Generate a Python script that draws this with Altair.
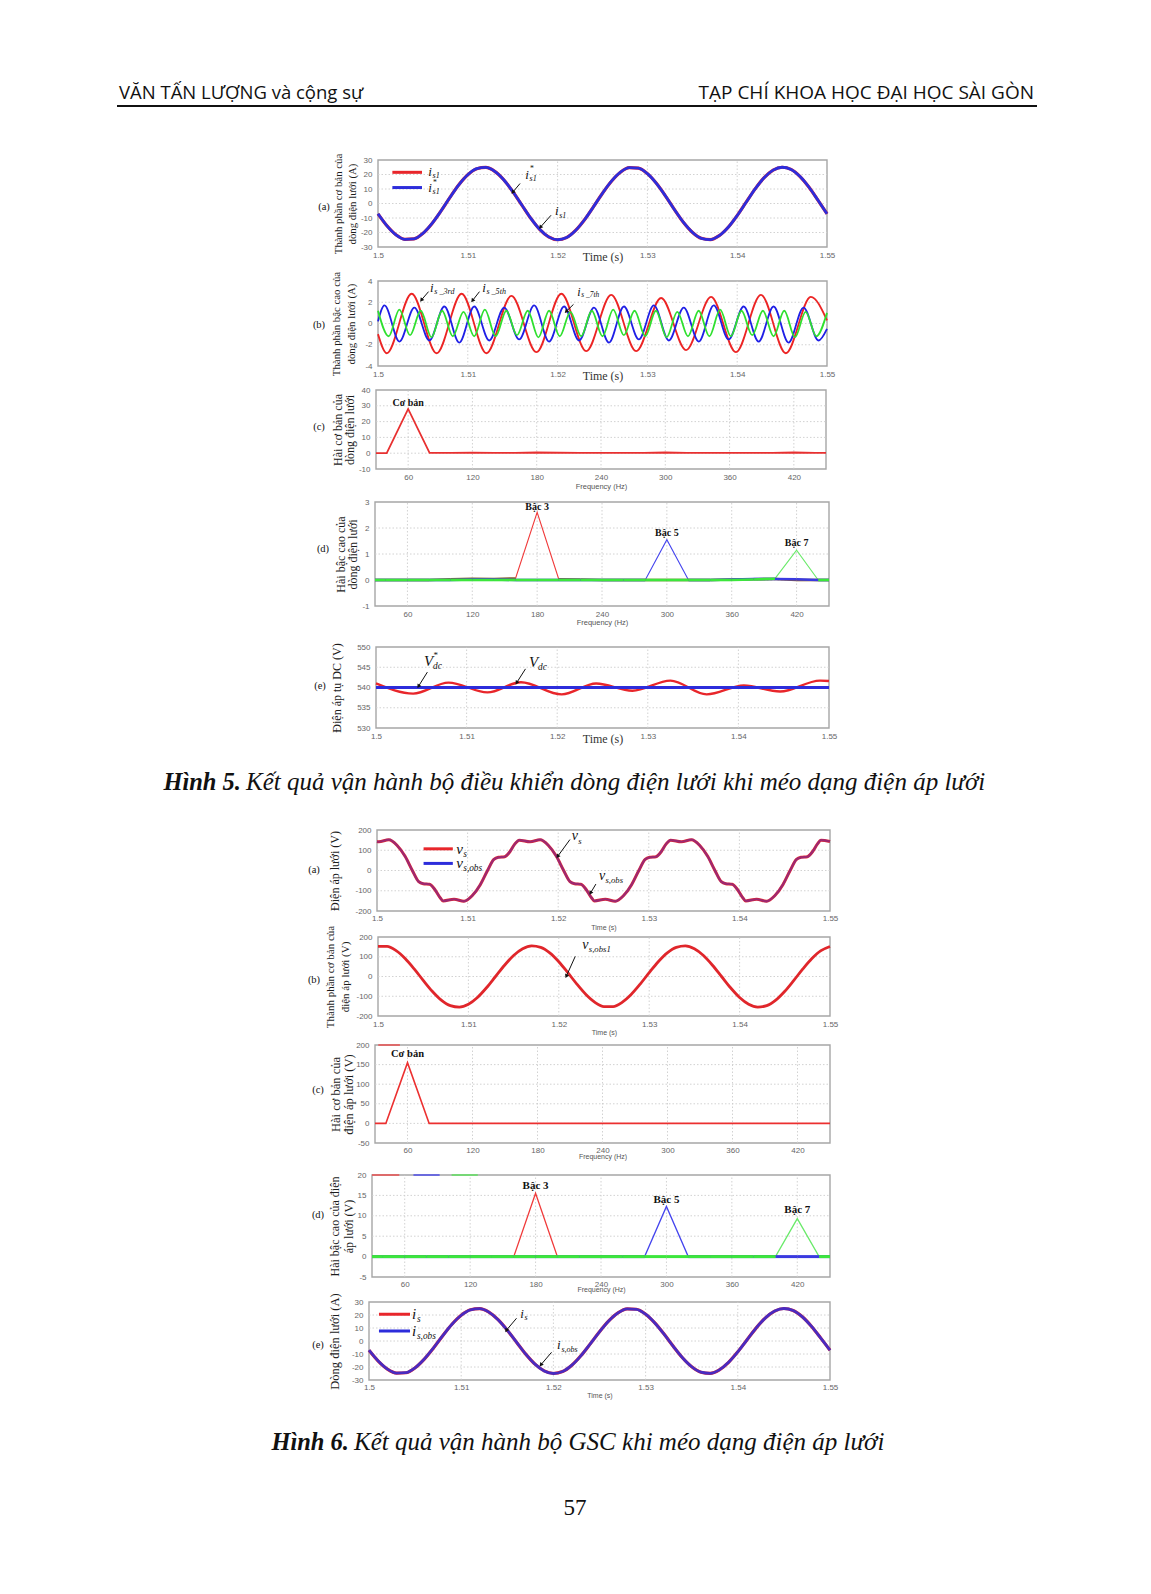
import altair as alt
import pandas as pd

PAGE_W, PAGE_H = 1151, 1594
SERIF = "Liberation Serif"
SANS = "Liberation Sans"
HEAD_FONT = "Open Sans"
RED, BLUE, GREEN = "#e8262b", "#2d2ddb", "#35e035"
FRAME, GRID, TICK = "#a6a6a6", "#cdcdcd", "#666666"

# ------------------------------------------------------------------ data
TIME_TICKS = [1.5, 1.51, 1.52, 1.53, 1.54, 1.55]
FREQ_TICKS = [60, 120, 180, 240, 300, 360, 420]

# 1 ms sampling instants of the 60 Hz records
T_1MS = [round(1.5 + 0.001 * k, 3) for k in range(51)]

# Fig 5(a): fundamental grid current i_s1 and reference i*_s1 (A), read every 1 ms
I_S1 = [-7.1, -15.4, -21.6, -24.7, -24.4, -20.6, -13.9, -5.3, 4.1, 12.9, 19.8, 24.0, 24.9,
        22.2, 16.4, 8.3, -0.9, -10.1, -17.8, -23.0, -25.0, -23.5, -18.6, -11.2, -2.2, 7.1,
        15.4, 21.6, 24.7, 24.4, 20.6, 13.9, 5.3, -4.1, -12.9, -19.8, -24.0, -24.9, -22.2,
        -16.4, -8.3, 0.9, 10.1, 17.8, 23.0, 25.0, 23.5, 18.6, 11.2, 2.2, -7.1]
I_S1_REF = list(I_S1)

# Fig 5(b): harmonic currents, extremes (s, A)
I3_T = [1.5000, 1.50097, 1.50375, 1.50653, 1.50931, 1.51208, 1.51486, 1.51764, 1.52042, 1.52319,
        1.52597, 1.52875, 1.53153, 1.53431, 1.53709, 1.53986, 1.54264, 1.54542, 1.54820, 1.5500]
I3_V = [-1.0, -2.8, 2.8, -2.8, 2.8, -2.8, 2.6, -2.7, 2.8, -2.6, 2.7, -2.6, 2.4, -2.5, 2.5, -2.7,
        2.7, -2.8, 2.5, 0.3]
I5_T = [1.5000, 1.50072, 1.50239, 1.50405, 1.50572, 1.50739, 1.50905, 1.51072, 1.51239, 1.51405,
        1.51572, 1.51739, 1.51905, 1.52072, 1.52239, 1.52405, 1.52572, 1.52739, 1.52905, 1.53072,
        1.53239, 1.53405, 1.53572, 1.53739, 1.53905, 1.54072, 1.54239, 1.54405, 1.54572, 1.54739,
        1.54905, 1.5500]
I5_V = [0.2, 1.7, -1.7, 1.5, -1.6, 1.6, -1.8, 1.6, -1.6, 1.5, -1.5, 1.7, -1.7, 1.6, -1.6, 1.5,
        -1.8, 1.6, -1.5, 1.7, -1.6, 1.5, -1.7, 1.7, -1.5, 1.6, -1.7, 1.6, -1.8, 1.5, -1.6, -0.5]
I7_T = [1.50000, 1.50119, 1.50238, 1.50357, 1.50476, 1.50595, 1.50714, 1.50833, 1.50952, 1.51071,
        1.51190, 1.51310, 1.51429, 1.51548, 1.51667, 1.51786, 1.51905, 1.52024, 1.52143, 1.52262,
        1.52381, 1.52500, 1.52619, 1.52738, 1.52857, 1.52976, 1.53095, 1.53214, 1.53333, 1.53452,
        1.53571, 1.53690, 1.53810, 1.53929, 1.54048, 1.54167, 1.54286, 1.54405, 1.54524, 1.54643,
        1.54762, 1.54881, 1.55000]
I7_V = [1.2, -1.2, 1.3, -1.1, 1.2, -1.3, 1.2, -1.2, 1.1, -1.2, 1.3, -1.2, 1.2, -1.1, 1.2, -1.3,
        1.2, -1.2, 1.1, -1.2, 1.2, -1.2, 1.3, -1.1, 1.2, -1.2, 1.2, -1.3, 1.1, -1.2, 1.2, -1.2,
        1.3, -1.2, 1.2, -1.1, 1.2, -1.2, 1.2, -1.3, 1.1, -1.2, 1.0]

# spectra: frequency bins (Hz)
FREQ = [30, 40, 60, 80, 100, 120, 140, 160, 180, 200, 220, 240, 260, 280, 300, 320, 340, 360,
        380, 400, 420, 440, 450]
# Fig 5(c): fundamental current spectrum (A)
I1_SPEC = [0, 0, 28, 0.2, 0.2, 0.35, 0.2, 0.2, 0.45, 0.3, 0.2, 0.2, 0.2, 0.2, 0.45, 0.2, 0.2,
           0.2, 0.2, 0.2, 0.45, 0.2, 0.2]
# Fig 5(d): harmonic current spectra (A)
I3_SPEC = [0, 0, 0, 0, 0.03, 0.05, 0.04, 0.06, 2.6, 0.03, 0.02, 0, 0, 0, 0, 0, 0, 0.02, 0.03,
           0.04, 0, 0, 0]
I5_SPEC = [0, 0, 0, 0, 0, 0.02, 0.02, 0, 0, 0, 0, 0, 0, 0, 1.55, 0, 0, 0.02, 0.04, 0.04, 0.03,
           0, 0]
I7_SPEC = [0, 0, 0, 0, 0, 0, 0, 0, 0, 0, 0, 0, 0, 0, 0, 0, 0, 0, 0.02, 0.05, 1.15, 0, 0]

# Fig 5(e): DC-link voltage (V), extremes of the ripple
VDC_T = [1.5000, 1.5041, 1.5080, 1.5123, 1.5160, 1.5205, 1.5243, 1.5283, 1.5325, 1.5365,
         1.5406, 1.5446, 1.5490, 1.5500]
VDC_V = [541.0, 538.5, 541.2, 538.8, 541.3, 538.3, 541.0, 539.2, 541.7, 538.3, 540.5, 539.0,
         541.7, 541.6]
VDC_REF_T = [1.5, 1.55]
VDC_REF_V = [540.0, 540.0]

# Fig 6(a): distorted grid voltage v_s and observer estimate (V)
VS_T = [1.5000, 1.5002, 1.5013, 1.5022, 1.5031, 1.5039, 1.5046, 1.5051, 1.5058, 1.5064, 1.5069,
        1.5073, 1.5085, 1.5096, 1.5105, 1.5114, 1.5122, 1.5129, 1.5134, 1.5141, 1.5147, 1.5152,
        1.5157, 1.5169, 1.5180, 1.5189, 1.5198, 1.5206, 1.5213, 1.5218, 1.5225, 1.5231, 1.5236,
        1.5240, 1.5252, 1.5263, 1.5272, 1.5281, 1.5289, 1.5296, 1.5301, 1.5308, 1.5314, 1.5319,
        1.5324, 1.5336, 1.5347, 1.5356, 1.5365, 1.5373, 1.5380, 1.5385, 1.5392, 1.5398, 1.5403,
        1.5407, 1.5419, 1.5430, 1.5439, 1.5448, 1.5456, 1.5463, 1.5468, 1.5475, 1.5481, 1.5486,
        1.5490, 1.5500]
VS_V = [143, 142, 152, 125, 70, 0, -55, -65, -68, -95, -130,
        -150, -142, -152, -125, -70, 0, 55, 65, 68, 95, 130,
        150, 142, 152, 125, 70, 0, -55, -65, -68, -95, -130,
        -150, -142, -152, -125, -70, 0, 55, 65, 68, 95, 130,
        150, 142, 152, 125, 70, 0, -55, -65, -68, -95, -130,
        -150, -142, -152, -125, -70, 0, 55, 65, 68, 95, 130,
        150, 143]
VS_OBS_V = list(VS_V)

# Fig 6(b): fundamental of the observed voltage (V), read every 1 ms
V_OBS1 = [152.2, 152.2, 130.9, 91.1, 38.6, -19.4, -74.7, -119.5, -147.4, -154.7, -140.3, -106.2,
          -57.1, 0, 57.1, 106.2, 140.3, 154.7, 147.4, 119.5, 74.7, 19.4, -38.6, -91.1, -130.9,
          -152.2, -152.2, -130.9, -91.1, -38.6, 19.4, 74.7, 119.5, 147.4, 154.7, 140.3, 106.2,
          57.1, 0, -57.1, -106.2, -140.3, -154.7, -147.4, -119.5, -74.7, -19.4, 38.6, 91.1,
          130.9, 152.2]

# Fig 6(c): fundamental voltage spectrum (V)
V1_SPEC = [0, 0, 155, 0, 0, 0, 0, 0, 0, 0, 0, 0, 0, 0, 0, 0, 0, 0, 0, 0, 0, 0, 0]
# Fig 6(d): harmonic voltage spectra (V)
V3_SPEC = [0, 0, 0, 0, 0, 0, 0, 0, 15.5, 0, 0, 0, 0, 0, 0, 0, 0, 0, 0, 0, 0, 0, 0]
V5_SPEC = [0, 0, 0, 0, 0, 0, 0, 0, 0, 0, 0, 0, 0, 0, 12.3, 0, 0, 0, 0, 0, 0, 0, 0]
V7_SPEC = [0, 0, 0, 0, 0, 0, 0, 0, 0, 0, 0, 0, 0, 0, 0, 0, 0, 0, 0, 0, 9.3, 0, 0]

# Fig 6(e): grid current and its observer estimate (A)
I_S = list(I_S1)
I_S_OBS = list(I_S1)

# clipped legend remnants at the top of the spectra (Hz)
REM_6C = [("r", 33, 53)]
REM_6D = [("r", 30, 55), ("b", 68, 92), ("g", 103, 127)]

ONE = pd.DataFrame({"k": [0]})

# ------------------------------------------------------------------ panels
# ytx: centre of the first line of the y title (page pixels)
P5A = dict(L=378, R=827, T=160, B=247, xdom=[1.5, 1.55], ydom=[-30, 30], xticks=TIME_TICKS,
           yticks=[-30, -20, -10, 0, 10, 20, 30], xtitle="Time (s)", xtf=SERIF, xts=12,
           xtc="#333333", xty=9, xlp=4,
           ytitle=["Thành phần cơ bản của", "dòng điện lưới (A)"], yts=10.8, ytx=338, ylh=14,
           letter="(a)", lx=324, ly=207)
P5B = dict(L=378, R=827, T=281, B=366, xdom=[1.5, 1.55], ydom=[-4, 4], xticks=TIME_TICKS,
           yticks=[-4, -2, 0, 2, 4], xtitle="Time (s)", xtf=SERIF, xts=12, xtc="#333333",
           xty=9, xlp=4, ytitle=["Thành phần bậc cao của", "dòng điện lưới (A)"], yts=10.8,
           ytx=336, ylh=15, letter="(b)", lx=319, ly=325)
P5C = dict(L=376, R=826, T=390, B=469, xdom=[30, 450], ydom=[-10, 40], xticks=FREQ_TICKS,
           yticks=[-10, 0, 10, 20, 30, 40], xtitle="Frequency (Hz)", xtf=SANS, xts=7.5,
           xtc="#555555", xty=17, xlp=4, ytitle=["Hài cơ bản của", "dòng điện lưới"],
           yts=12, ytx=337, ylh=12.5, letter="(c)", lx=319, ly=427)
P5D = dict(L=375, R=829, T=502, B=606, xdom=[30, 450], ydom=[-1, 3], xticks=FREQ_TICKS,
           yticks=[-1, 0, 1, 2, 3], xtitle="Frequency (Hz)", xtf=SANS, xts=7.5,
           xtc="#555555", xty=16, xlp=4, ytitle=["Hài bậc cao của", "dòng điện lưới"],
           yts=12, ytx=340, ylh=12.5, letter="(d)", lx=323, ly=549)
P5E = dict(L=376, R=829, T=647, B=728, xdom=[1.5, 1.55], ydom=[530, 550], xticks=TIME_TICKS,
           yticks=[530, 535, 540, 545, 550], xtitle="Time (s)", xtf=SERIF, xts=12,
           xtc="#333333", xty=10, xlp=4, ytitle="Điện áp tụ DC (V)", yts=12, ytx=336,
           ylh=12, letter="(e)", lx=320, ly=686)
P6A = dict(L=377, R=830, T=830, B=911, xdom=[1.5, 1.55], ydom=[-200, 200], xticks=TIME_TICKS,
           yticks=[-200, -100, 0, 100, 200], xtitle="Time (s)", xtf=SANS, xts=7,
           xtc="#555555", xty=16, xlp=3, ytitle="Điện áp lưới (V)", yts=12, ytx=334, ylh=12,
           letter="(a)", lx=314, ly=870)
P6B = dict(L=378, R=830, T=937, B=1016, xdom=[1.5, 1.55], ydom=[-200, 200], xticks=TIME_TICKS,
           yticks=[-200, -100, 0, 100, 200], xtitle="Time (s)", xtf=SANS, xts=7,
           xtc="#555555", xty=16, xlp=4, ytitle=["Thành phần cơ bản của", "điện áp lưới (V)"],
           yts=11, ytx=330, ylh=15.5, letter="(b)", lx=314, ly=980)
P6C = dict(L=375, R=830, T=1045, B=1143, xdom=[30, 450], ydom=[-50, 200], xticks=FREQ_TICKS,
           yticks=[-50, 0, 50, 100, 150, 200], xtitle="Frequency (Hz)", xtf=SANS, xts=7,
           xtc="#555555", xty=13, xlp=3, ytitle=["Hài cơ bản của", "điện áp lưới (V)"],
           yts=12.5, ytx=335, ylh=13.5, letter="(c)", lx=318, ly=1090)
P6D = dict(L=372, R=830, T=1175, B=1277, xdom=[30, 450], ydom=[-5, 20], xticks=FREQ_TICKS,
           yticks=[-5, 0, 5, 10, 15, 20], xtitle="Frequency (Hz)", xtf=SANS, xts=7,
           xtc="#555555", xty=12, xlp=3, ytitle=["Hài bậc cao của điện", "áp lưới (V)"],
           yts=12, ytx=334, ylh=14, letter="(d)", lx=318, ly=1215)
P6E = dict(L=369, R=830, T=1302, B=1380, xdom=[1.5, 1.55], ydom=[-30, 30], xticks=TIME_TICKS,
           yticks=[-30, -20, -10, 0, 10, 20, 30], xtitle="Time (s)", xtf=SANS, xts=7,
           xtc="#555555", xty=15, xlp=3, ytitle="Dòng điện lưới (A)", yts=12.5, ytx=334, ylh=12,
           letter="(e)", lx=318, ly=1345)


def scales(p):
    xs = alt.Scale(domain=p["xdom"], range=[p["L"], p["R"]], nice=False, zero=False)
    ys = alt.Scale(domain=p["ydom"], range=[p["B"], p["T"]], nice=False, zero=False)
    return xs, ys


def xaxis(p):
    return alt.Axis(orient="bottom", offset=p["B"] - PAGE_H, values=p["xticks"],
                    labelExpr="'' + datum.value", labelFont=SANS, labelFontSize=8,
                    labelColor=TICK, labelPadding=p["xlp"], ticks=False, domain=False, grid=False,
                    labelFlush=False, labelOverlap=False, title=p["xtitle"], titleFont=p["xtf"],
                    titleFontSize=p["xts"], titleFontWeight="normal", titleColor=p["xtc"],
                    titleY=p["xty"], titleBaseline="middle")


def yaxis(p):
    return alt.Axis(orient="left", offset=-p["L"], values=p["yticks"],
                    labelExpr="'' + datum.value", labelFont=SANS, labelFontSize=8,
                    labelColor=TICK, labelPadding=6, ticks=False, domain=False, grid=False,
                    labelFlush=False, labelOverlap=False, title=p["ytitle"], titleFont=SERIF,
                    titleFontSize=p["yts"], titleFontWeight="normal", titleColor="#1c1c1c",
                    titleAngle=270, titleX=p["ytx"] - p["L"], titleBaseline="middle",
                    titleLineHeight=p["ylh"])


def text(xs, ys, x, y, s, size, font=SERIF, style="italic", weight="normal", dx=0, dy=0,
         align="left", color="#111111"):
    return alt.Chart(ONE).mark_text(text=s, font=font, fontSize=size, fontStyle=style,
                                    fontWeight=weight, align=align, baseline="middle", dx=dx,
                                    dy=dy, color=color).encode(
        x=alt.XDatum(x, scale=xs, axis=None), y=alt.YDatum(y, scale=ys, axis=None))


def symbol(xs, ys, x, y, main, sub="", sup="", size=13, w=None):
    w = size * 0.33 if w is None else w
    out = [text(xs, ys, x, y, main, size)]
    if sup:
        out.append(text(xs, ys, x, y, sup, size * 0.6, style="normal", dx=w + 0.5, dy=-size * 0.4))
    if sub:
        out.append(text(xs, ys, x, y, sub, size * 0.62, dx=w, dy=size * 0.32))
    return out


def arrow(xs, ys, x1, y1, x2, y2, angle):
    shaft = alt.Chart(ONE).mark_rule(color="#111111", strokeWidth=1).encode(
        x=alt.XDatum(x1, scale=xs, axis=None), y=alt.YDatum(y1, scale=ys, axis=None),
        x2=alt.X2Datum(x2), y2=alt.Y2Datum(y2))
    head = alt.Chart(ONE).mark_point(shape="triangle", filled=True, size=20, angle=angle,
                                     color="#111111", opacity=1).encode(
        x=alt.XDatum(x2, scale=xs, axis=None), y=alt.YDatum(y2, scale=ys, axis=None))
    return [shaft, head]


def swatch(xs, ys, xa, xb, y, color, width=3):
    return alt.Chart(ONE).mark_rule(color=color, strokeWidth=width).encode(
        x=alt.XDatum(xa, scale=xs, axis=None), x2=alt.X2Datum(xb),
        y=alt.YDatum(y, scale=ys, axis=None))


def line(df, xf, yf, xs, ys, color, width, interp="monotone", opacity=1.0):
    return alt.Chart(df).mark_line(color=color, strokeWidth=width, interpolate=interp,
                                   opacity=opacity).encode(
        x=alt.X(xf + ":Q", scale=xs, axis=None), y=alt.Y(yf + ":Q", scale=ys, axis=None))


def baseline_segments(freq, vals, thr, xs, ys, color, width):
    rows = [(freq[i], freq[i + 1], vals[i], vals[i + 1]) for i in range(len(freq) - 1)
            if vals[i] <= thr and vals[i + 1] <= thr]
    df = pd.DataFrame(rows, columns=["fa", "fb", "va", "vb"])
    return alt.Chart(df).mark_rule(color=color, strokeWidth=width).encode(
        x=alt.X("fa:Q", scale=xs, axis=None), x2="fb:Q",
        y=alt.Y("va:Q", scale=ys, axis=None), y2="vb:Q")


frames = []


def base_layers(p, xs, ys):
    x0, x1 = p["xdom"]
    y0, y1 = p["ydom"]
    gx = [v for v in p["xticks"] if x0 < v < x1]
    gy = [v for v in p["yticks"] if y0 < v < y1]
    grid_v = alt.Chart(pd.DataFrame({"g": gx})).mark_rule(
        color=GRID, strokeDash=[1.5, 2], strokeWidth=0.9).encode(
        x=alt.X("g:Q", scale=xs, axis=None),
        y=alt.YDatum(y0, scale=ys, axis=None), y2=alt.Y2Datum(y1))
    grid_h = alt.Chart(pd.DataFrame({"g": gy})).mark_rule(
        color=GRID, strokeDash=[1.5, 2], strokeWidth=0.9).encode(
        y=alt.Y("g:Q", scale=ys, axis=None),
        x=alt.XDatum(x0, scale=xs, axis=None), x2=alt.X2Datum(x1))
    # frame with the panel's axes: a top-level layer of its own
    frames.append(alt.Chart(pd.DataFrame({"a": [x0], "b": [x1], "c": [y0], "d": [y1]})).mark_rect(
        fillOpacity=0, stroke=FRAME, strokeWidth=1.4).encode(
        x=alt.X("a:Q", scale=xs, axis=xaxis(p)), x2="b:Q",
        y=alt.Y("c:Q", scale=ys, axis=yaxis(p)), y2="d:Q"))
    letter = text(xs, ys, x0, (y0 + y1) / 2, p["letter"], 10.5, style="normal", align="center",
                  dx=p["lx"] - p["L"], dy=p["ly"] - (p["T"] + p["B"]) / 2)
    return [grid_v, grid_h, letter]


layers = []

# ---- Fig 5(a)
p = P5A
xs, ys = scales(p)
Ls = base_layers(p, xs, ys)
d = pd.DataFrame({"t": T_1MS, "meas": I_S1, "ref": I_S1_REF})
Ls += [line(d, "t", "meas", xs, ys, RED, 3.2), line(d, "t", "ref", xs, ys, BLUE, 2.8)]
Ls += [swatch(xs, ys, 1.5016, 1.5049, 21.5, RED), swatch(xs, ys, 1.5016, 1.5049, 11.0, BLUE)]
Ls += symbol(xs, ys, 1.5056, 21.5, "i", sub="s1")
Ls += symbol(xs, ys, 1.5056, 10.5, "i", sub="s1", sup="*")
Ls += symbol(xs, ys, 1.5164, 20, "i", sub="s1", sup="*")
Ls += arrow(xs, ys, 1.51582, 13.8, 1.51505, 8.1, 219)
Ls += symbol(xs, ys, 1.5197, -5.5, "i", sub="s1")
Ls += arrow(xs, ys, 1.51927, -8.1, 1.51812, -16.1, 221)
layers.append(alt.layer(*Ls))

# ---- Fig 5(b)
p = P5B
xs, ys = scales(p)
Ls = base_layers(p, xs, ys)
Ls += [line(pd.DataFrame({"t": I3_T, "v": I3_V}), "t", "v", xs, ys, "#ec2424", 1.8),
       line(pd.DataFrame({"t": I5_T, "v": I5_V}), "t", "v", xs, ys, "#1f1fe6", 1.8),
       line(pd.DataFrame({"t": I7_T, "v": I7_V}), "t", "v", xs, ys, "#2fe02f", 1.8)]
Ls += symbol(xs, ys, 1.5058, 3.35, "i", sub="s _3rd")
Ls += arrow(xs, ys, 1.50563, 3.0, 1.50487, 2.25, 218)
Ls += symbol(xs, ys, 1.5116, 3.35, "i", sub="s _5th")
Ls += arrow(xs, ys, 1.5113, 3.0, 1.51056, 2.2, 218)
Ls += symbol(xs, ys, 1.5222, 3.0, "i", sub="s _7th", size=12)
Ls += arrow(xs, ys, 1.52177, 1.8, 1.521, 1.17, 225)
layers.append(alt.layer(*Ls))

# ---- Fig 5(c)
p = P5C
xs, ys = scales(p)
Ls = base_layers(p, xs, ys)
Ls += [line(pd.DataFrame({"f": FREQ, "v": I1_SPEC}), "f", "v", xs, ys, "#e83030", 1.8, "linear")]
Ls += [text(xs, ys, 60, 31.5, "Cơ bản", 10, style="normal", weight="bold", align="center")]
layers.append(alt.layer(*Ls))

# ---- Fig 5(d)
p = P5D
xs, ys = scales(p)
Ls = base_layers(p, xs, ys)
Ls += [line(pd.DataFrame({"f": FREQ, "v": I3_SPEC}), "f", "v", xs, ys, "#f03a3a", 1.1, "linear"),
       line(pd.DataFrame({"f": FREQ, "v": I5_SPEC}), "f", "v", xs, ys, "#4444ee", 1.1, "linear"),
       line(pd.DataFrame({"f": FREQ, "v": I7_SPEC}), "f", "v", xs, ys, "#6aea6a", 1.1, "linear"),
       baseline_segments(FREQ, I3_SPEC, 0.2, xs, ys, "#8a5a30", 2.6),
       baseline_segments(FREQ, I5_SPEC, 0.2, xs, ys, "#3a3ae0", 2.6),
       baseline_segments(FREQ, I7_SPEC, 0.2, xs, ys, "#3ce63c", 2.6)]
Ls += [text(xs, ys, 180, 2.8, "Bậc 3", 10, style="normal", weight="bold", align="center"),
       text(xs, ys, 300, 1.8, "Bậc 5", 10, style="normal", weight="bold", align="center"),
       text(xs, ys, 420, 1.43, "Bậc 7", 10, style="normal", weight="bold", align="center")]
layers.append(alt.layer(*Ls))

# ---- Fig 5(e)
p = P5E
xs, ys = scales(p)
Ls = base_layers(p, xs, ys)
Ls += [line(pd.DataFrame({"t": VDC_T, "v": VDC_V}), "t", "v", xs, ys, RED, 2.4),
       line(pd.DataFrame({"t": VDC_REF_T, "v": VDC_REF_V}), "t", "v", xs, ys, BLUE, 3.2, "linear")]
Ls += symbol(xs, ys, 1.5053, 546.5, "V", sub="dc", sup="*", size=15, w=9)
Ls += arrow(xs, ys, 1.50567, 543.8, 1.50472, 540.4, 212)
Ls += symbol(xs, ys, 1.5169, 546.3, "V", sub="dc", size=15, w=9)
Ls += arrow(xs, ys, 1.5165, 544.6, 1.51556, 541.3, 213)
layers.append(alt.layer(*Ls))

# ---- Fig 6(a)
p = P6A
xs, ys = scales(p)
Ls = base_layers(p, xs, ys)
d = pd.DataFrame({"t": VS_T, "v": VS_V, "o": VS_OBS_V})
Ls += [line(d, "t", "v", xs, ys, RED, 3.0), line(d, "t", "o", xs, ys, BLUE, 2.2, opacity=0.4)]
Ls += [swatch(xs, ys, 1.50514, 1.50837, 107, RED), swatch(xs, ys, 1.50514, 1.50837, 35, BLUE)]
Ls += symbol(xs, ys, 1.50875, 107, "v", sub="s", size=15, w=7)
Ls += symbol(xs, ys, 1.50875, 35, "v", sub="s,obs", size=15, w=7)
Ls += symbol(xs, ys, 1.5215, 170, "v", sub="s", size=14, w=6.5)
Ls += arrow(xs, ys, 1.5213, 153, 1.51998, 72, 216)
Ls += symbol(xs, ys, 1.5245, -25, "v", sub="s,obs", size=14, w=6.5)
Ls += arrow(xs, ys, 1.52416, -67, 1.5236, -109, 210)
layers.append(alt.layer(*Ls))

# ---- Fig 6(b)
p = P6B
xs, ys = scales(p)
Ls = base_layers(p, xs, ys)
Ls += [line(pd.DataFrame({"t": T_1MS, "v": V_OBS1}), "t", "v", xs, ys, "#e0262b", 2.8)]
Ls += symbol(xs, ys, 1.5226, 160, "v", sub="s,obs1", size=14, w=6.5)
Ls += arrow(xs, ys, 1.52182, 102, 1.52086, 4, 205)
layers.append(alt.layer(*Ls))

# ---- Fig 6(c)
p = P6C
xs, ys = scales(p)
Ls = base_layers(p, xs, ys)
Ls += [line(pd.DataFrame({"f": FREQ, "v": V1_SPEC}), "f", "v", xs, ys, "#ec3030", 1.6, "linear")]
Ls += [swatch(xs, ys, a, b, 200, "#e85050", 1.5) for _, a, b in REM_6C]
Ls += [text(xs, ys, 60, 177, "Cơ bản", 10.5, style="normal", weight="bold", align="center")]
layers.append(alt.layer(*Ls))

# ---- Fig 6(d)
p = P6D
xs, ys = scales(p)
Ls = base_layers(p, xs, ys)
Ls += [line(pd.DataFrame({"f": FREQ, "v": V3_SPEC}), "f", "v", xs, ys, "#f03a3a", 1.3, "linear"),
       line(pd.DataFrame({"f": FREQ, "v": V5_SPEC}), "f", "v", xs, ys, "#4444ee", 1.3, "linear"),
       line(pd.DataFrame({"f": FREQ, "v": V7_SPEC}), "f", "v", xs, ys, "#6aea6a", 1.3, "linear"),
       baseline_segments(FREQ, V5_SPEC, 1, xs, ys, "#3a3ae0", 3),
       baseline_segments(FREQ, V7_SPEC, 1, xs, ys, "#3ce63c", 3)]
rem_col = {"r": "#e85050", "b": "#5050e8", "g": "#60e060"}
Ls += [swatch(xs, ys, a, b, 20, rem_col[c], 1.5) for c, a, b in REM_6D]
Ls += [text(xs, ys, 180, 17.4, "Bậc 3", 11, style="normal", weight="bold", align="center"),
       text(xs, ys, 300, 13.9, "Bậc 5", 11, style="normal", weight="bold", align="center"),
       text(xs, ys, 420, 11.5, "Bậc 7", 11, style="normal", weight="bold", align="center")]
layers.append(alt.layer(*Ls))

# ---- Fig 6(e)
p = P6E
xs, ys = scales(p)
Ls = base_layers(p, xs, ys)
d = pd.DataFrame({"t": T_1MS, "v": I_S, "o": I_S_OBS})
Ls += [line(d, "t", "v", xs, ys, RED, 3.2), line(d, "t", "o", xs, ys, BLUE, 2.8, opacity=0.85)]
Ls += [swatch(xs, ys, 1.50108, 1.50445, 20.5, RED), swatch(xs, ys, 1.50108, 1.50445, 7.7, BLUE)]
Ls += symbol(xs, ys, 1.50466, 20.5, "i", sub="s", size=15, w=5)
Ls += symbol(xs, ys, 1.50466, 7.7, "i", sub="s,obs", size=15, w=5)
Ls += symbol(xs, ys, 1.5164, 21, "i", sub="s", size=13)
Ls += arrow(xs, ys, 1.5160, 17.5, 1.51493, 8.5, 211)
Ls += symbol(xs, ys, 1.5204, -3.4, "i", sub="s,obs", size=13)
Ls += arrow(xs, ys, 1.5198, -8.7, 1.51868, -18, 220)
layers.append(alt.layer(*Ls))


# ------------------------------------------------------------------ page furniture
def page_text(s, x, y, size, font=SERIF, align="left", style="normal", weight="normal",
              color="#111111"):
    return alt.Chart(ONE).mark_text(text=s, font=font, fontSize=size, fontStyle=style,
                                    fontWeight=weight, align=align, baseline="alphabetic",
                                    color=color).encode(x=alt.value(x), y=alt.value(y))


page = [
    page_text("VĂN TẤN LƯỢNG và cộng sự", 119, 98.5, 18.5, font=HEAD_FONT),
    page_text("TẠP CHÍ KHOA HỌC ĐẠI HỌC SÀI GÒN", 1034, 98.5, 19, font=HEAD_FONT, align="right"),
    alt.Chart(ONE).mark_rule(color="#111111", strokeWidth=1.8).encode(
        x=alt.value(117), x2=alt.value(1037), y=alt.value(106)),
    page_text("Hình 5.", 241, 790, 24.5, style="italic", weight="bold", align="right"),
    page_text("Kết quả vận hành bộ điều khiển dòng điện lưới khi méo dạng điện áp lưới", 246, 790,
              25, style="italic"),
    page_text("Hình 6.", 349, 1450, 24.5, style="italic", weight="bold", align="right"),
    page_text("Kết quả vận hành bộ GSC khi méo dạng điện áp lưới", 354, 1450, 25,
              style="italic"),
    page_text("57", 575, 1515, 23, align="center"),
]

chart = alt.layer(*frames, *layers, *page).resolve_scale(
    x="independent", y="independent").properties(
    width=PAGE_W, height=PAGE_H, padding=0, background="white",
    autosize=alt.AutoSizeParams(type="none")
).configure_view(stroke="transparent")

chart.save("out.html", embed_options={"renderer": "svg", "actions": False})
